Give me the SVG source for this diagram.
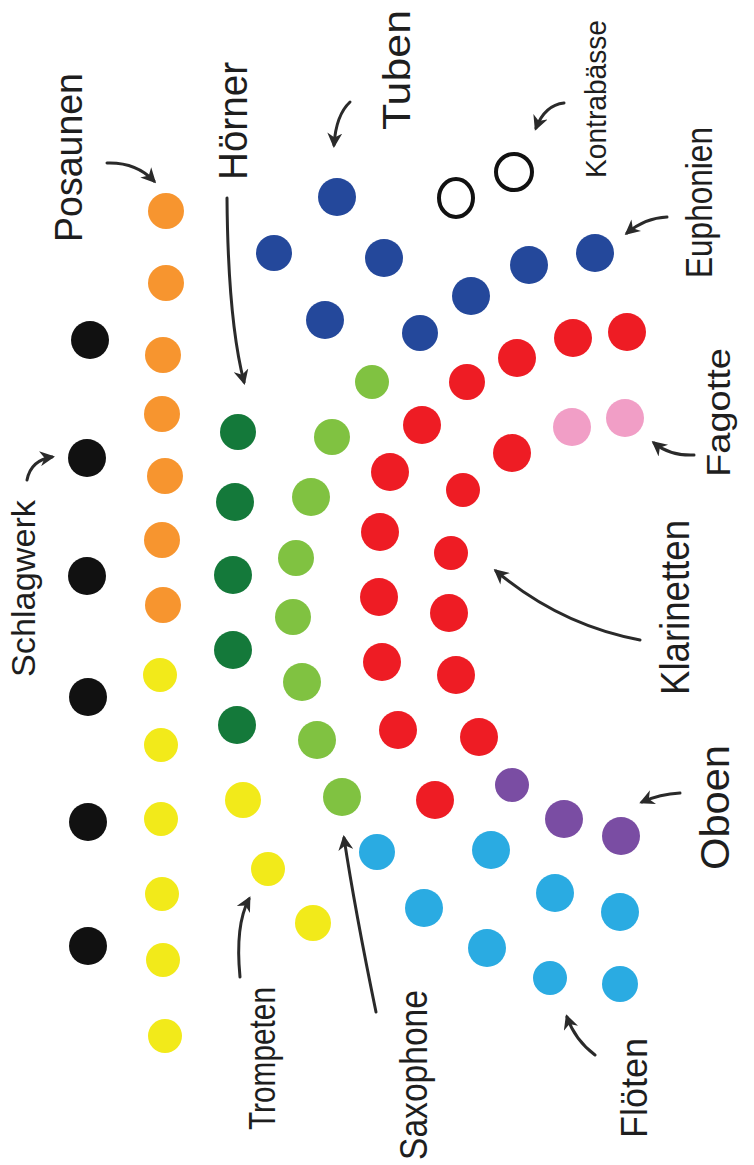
<svg xmlns="http://www.w3.org/2000/svg" width="754" height="1165" viewBox="0 0 754 1165">
<style>
.lbl{font-family:"Liberation Sans","DejaVu Sans",sans-serif;fill:#1e1e1e;font-weight:normal}
.arr{fill:none;stroke:#2a2a2a;stroke-width:3;stroke-linecap:round;marker-end:url(#ah)}
.blk{fill:#111111}.org{fill:#f7952f}.yel{fill:#f2ea1a}.dgr{fill:#14793a}.lgr{fill:#80c241}
.dbl{fill:#24489b}.red{fill:#ee1c24}.pnk{fill:#f19ec6}.pur{fill:#7a4da3}.lbu{fill:#2aabe2}
.kb{fill:none;stroke:#111111;stroke-width:4}
</style>
<defs>
<marker id="ah" viewBox="0 0 10 10" refX="8" refY="5" markerWidth="17" markerHeight="15" markerUnits="userSpaceOnUse" orient="auto">
<path d="M0,0 L10,5 L0,10 L3,5 z" fill="#2a2a2a"/>
</marker>
</defs>
<rect width="754" height="1165" fill="#ffffff"/>

<g id="schlagwerk">
<circle class="blk" cx="90" cy="340" r="19"/><circle class="blk" cx="87" cy="458" r="19"/><circle class="blk" cx="87" cy="576" r="19"/>
<circle class="blk" cx="88" cy="697" r="19"/><circle class="blk" cx="88" cy="822" r="19"/><circle class="blk" cx="88" cy="946" r="19"/>
<text class="lbl" font-size="34" transform="translate(35,677) rotate(-90)" textLength="177" lengthAdjust="spacingAndGlyphs">Schlagwerk</text>
</g>

<g id="posaunen">
<circle class="org" cx="166" cy="211" r="18"/><circle class="org" cx="166" cy="283" r="18"/><circle class="org" cx="163" cy="355" r="18"/>
<circle class="org" cx="162" cy="414" r="18"/><circle class="org" cx="165" cy="476" r="18"/><circle class="org" cx="162" cy="540" r="18"/>
<circle class="org" cx="163" cy="605" r="18"/>
<text class="lbl" font-size="38" transform="translate(82,242) rotate(-90)" textLength="169" lengthAdjust="spacingAndGlyphs">Posaunen</text>
</g>

<g id="trompeten">
<circle class="yel" cx="160" cy="675" r="17"/><circle class="yel" cx="161" cy="745" r="17"/><circle class="yel" cx="161" cy="819" r="17"/>
<circle class="yel" cx="162" cy="894" r="17"/><circle class="yel" cx="163" cy="960" r="17"/><circle class="yel" cx="165" cy="1036" r="17"/>
<circle class="yel" cx="243" cy="800" r="18"/><circle class="yel" cx="268" cy="869" r="17"/><circle class="yel" cx="313" cy="923" r="18"/>
<text class="lbl" font-size="36" transform="translate(275,1130) rotate(-90)" textLength="143" lengthAdjust="spacingAndGlyphs">Trompeten</text>
</g>

<g id="hoerner">
<circle class="dgr" cx="238" cy="432" r="18"/><circle class="dgr" cx="235" cy="502" r="19"/><circle class="dgr" cx="233" cy="575" r="19"/>
<circle class="dgr" cx="233" cy="650" r="19"/><circle class="dgr" cx="237" cy="725" r="19"/>
<text class="lbl" font-size="40" transform="translate(247,180) rotate(-90)" textLength="118" lengthAdjust="spacingAndGlyphs">Hörner</text>
</g>

<g id="saxophone">
<circle class="lgr" cx="372" cy="382" r="17"/><circle class="lgr" cx="332" cy="437" r="18"/><circle class="lgr" cx="311" cy="497" r="19"/>
<circle class="lgr" cx="296" cy="558" r="18"/><circle class="lgr" cx="293" cy="617" r="18"/><circle class="lgr" cx="302" cy="682" r="19"/>
<circle class="lgr" cx="317" cy="740" r="19"/><circle class="lgr" cx="342" cy="797" r="19"/>
<text class="lbl" font-size="38" transform="translate(427,1160) rotate(-90)" textLength="170" lengthAdjust="spacingAndGlyphs">Saxophone</text>
</g>

<g id="tuben">
<circle class="dbl" cx="337" cy="197" r="19"/><circle class="dbl" cx="325" cy="320" r="19"/><circle class="dbl" cx="274" cy="253" r="18"/>
<circle class="dbl" cx="384" cy="258" r="19"/>
<text class="lbl" font-size="38" transform="translate(410,130) rotate(-90)" textLength="120" lengthAdjust="spacingAndGlyphs">Tuben</text>
</g>

<g id="euphonien">
<circle class="dbl" cx="420" cy="333" r="18"/><circle class="dbl" cx="471" cy="296" r="19"/><circle class="dbl" cx="529" cy="265" r="19"/>
<circle class="dbl" cx="595" cy="253" r="19"/>
<text class="lbl" font-size="36" transform="translate(712,278) rotate(-90)" textLength="151" lengthAdjust="spacingAndGlyphs">Euphonien</text>
</g>

<g id="kontrabaesse">
<ellipse class="kb" cx="456" cy="198" rx="17" ry="19"/><ellipse class="kb" cx="514" cy="172" rx="18" ry="18"/>
<text class="lbl" font-size="30" transform="translate(606,178) rotate(-90)" textLength="158" lengthAdjust="spacingAndGlyphs">Kontrabässe</text>
</g>

<g id="klarinetten">
<circle class="red" cx="467" cy="382" r="18"/><circle class="red" cx="517" cy="358" r="19"/><circle class="red" cx="573" cy="338" r="19"/>
<circle class="red" cx="627" cy="332" r="19"/><circle class="red" cx="422" cy="425" r="19"/><circle class="red" cx="512" cy="453" r="19"/>
<circle class="red" cx="390" cy="472" r="19"/><circle class="red" cx="463" cy="490" r="17"/><circle class="red" cx="380" cy="532" r="19"/>
<circle class="red" cx="451" cy="553" r="17"/><circle class="red" cx="379" cy="597" r="19"/><circle class="red" cx="449" cy="613" r="19"/>
<circle class="red" cx="382" cy="662" r="19"/><circle class="red" cx="456" cy="675" r="19"/><circle class="red" cx="398" cy="730" r="19"/>
<circle class="red" cx="479" cy="737" r="19"/><circle class="red" cx="435" cy="800" r="19"/>
<text class="lbl" font-size="40" transform="translate(689,695) rotate(-90)" textLength="175" lengthAdjust="spacingAndGlyphs">Klarinetten</text>
</g>

<g id="fagotte">
<circle class="pnk" cx="572" cy="427" r="19"/><circle class="pnk" cx="625" cy="418" r="19"/>
<text class="lbl" font-size="34" transform="translate(730,477) rotate(-90)" textLength="129" lengthAdjust="spacingAndGlyphs">Fagotte</text>
</g>

<g id="oboen">
<circle class="pur" cx="512" cy="785" r="17"/><circle class="pur" cx="564" cy="819" r="19"/><circle class="pur" cx="621" cy="836" r="19"/>
<text class="lbl" font-size="40" transform="translate(729,870) rotate(-90)" textLength="125" lengthAdjust="spacingAndGlyphs">Oboen</text>
</g>

<g id="floeten">
<circle class="lbu" cx="377" cy="852" r="18"/><circle class="lbu" cx="491" cy="850" r="19"/><circle class="lbu" cx="424" cy="908" r="19"/>
<circle class="lbu" cx="555" cy="893" r="19"/><circle class="lbu" cx="620" cy="912" r="19"/><circle class="lbu" cx="487" cy="948" r="19"/>
<circle class="lbu" cx="550" cy="978" r="17"/><circle class="lbu" cx="620" cy="984" r="18"/>
<text class="lbl" font-size="36" transform="translate(647,1138) rotate(-90)" textLength="100" lengthAdjust="spacingAndGlyphs">Flöten</text>
</g>

<g id="connectors">
<path class="arr" d="M107,163 Q136,162 154,181"/>
<path class="arr" d="M227,198 Q228,320 244,382"/>
<path class="arr" d="M350,102 Q336,115 334,145"/>
<path class="arr" d="M564,103 Q545,105 536,128"/>
<path class="arr" d="M667,217 Q645,218 627,233"/>
<path class="arr" d="M27,480 Q31,460 52,457"/>
<path class="arr" d="M694,455 Q670,456 654,443"/>
<path class="arr" d="M640,640 Q560,625 496,571"/>
<path class="arr" d="M680,793 Q660,794 642,802"/>
<path class="arr" d="M595,1055 Q575,1040 567,1017"/>
<path class="arr" d="M376,1012 Q355,910 344,838"/>
<path class="arr" d="M240,977 Q235,925 249,899"/>
</g>
</svg>
